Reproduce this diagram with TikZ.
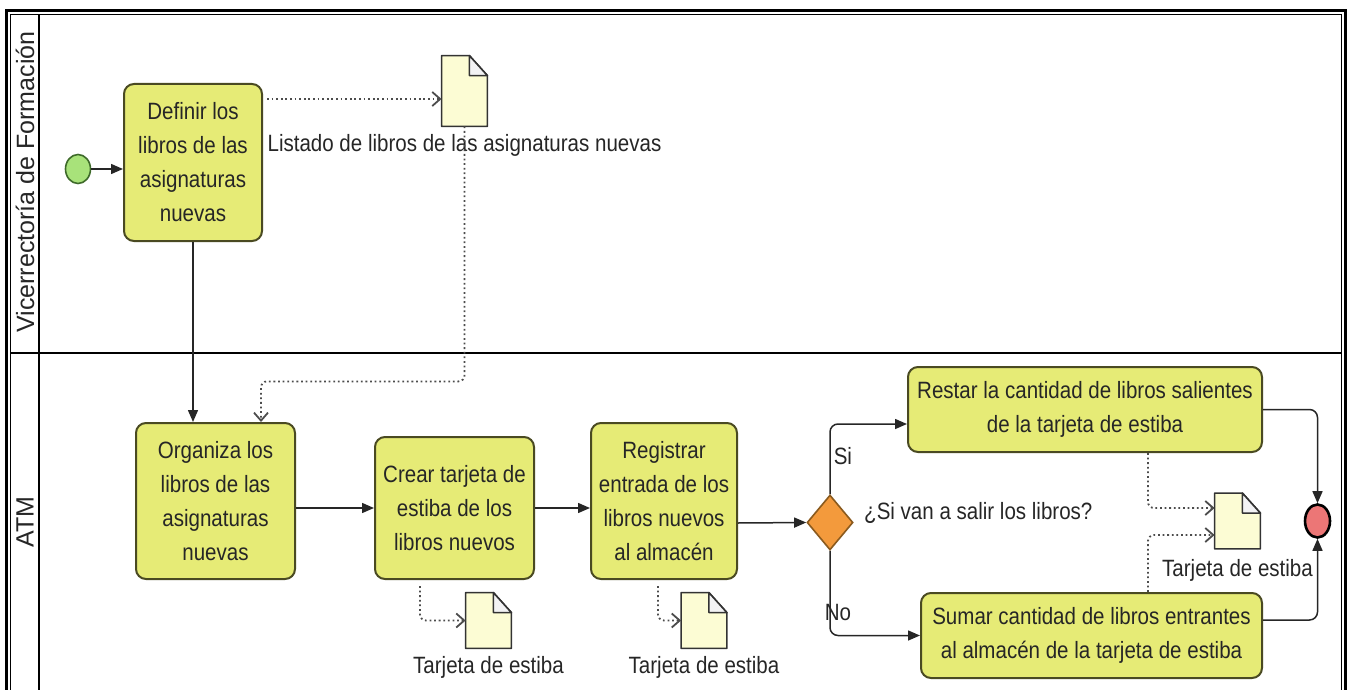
\documentclass[tikz,border=0pt]{standalone}
\usepackage{fontspec}
\setmainfont{Liberation Sans}[FakeStretch=0.87]
\newfontfamily\lanefont{Liberation Sans}
\usetikzlibrary{positioning,shapes.geometric,arrows.meta}
\definecolor{taskfill}{HTML}{E6EB76}
\definecolor{taskline}{HTML}{4A4A22}
\definecolor{docfill}{HTML}{FCFCD4}
\definecolor{foldfill}{HTML}{F2F2F4}
\definecolor{decfill}{HTML}{F39A3C}
\definecolor{decline}{HTML}{8A5A1E}
\definecolor{startfill}{HTML}{A8E27A}
\definecolor{startline}{HTML}{3E6A2A}
\definecolor{endfill}{HTML}{EC7676}
\definecolor{txt}{HTML}{262626}
\tikzset{>={Triangle[length=6pt,width=5pt]}}
\tikzset{
  task/.style={draw=taskline,fill=taskfill,line width=1pt,rounded corners=5pt,align=center,
    inner sep=0pt,font=\fontsize{11.8}{17}\selectfont,text=txt},
  doc/.style={inner sep=0pt,minimum width=22.5pt,minimum height=27.5pt},
  docline/.style={draw=black!80,fill=docfill,line width=0.8pt,line join=round},
  doclabel/.style={inner sep=0pt,font=\fontsize{11.8}{17}\selectfont,text=txt},
  flow/.style={->,draw=black!85,line width=0.75pt,rounded corners=4pt},
  assoc/.style={-{Straight Barb[length=4pt,width=7pt]},draw=black!70,line width=0.9pt,
    dash pattern=on 0.9pt off 1.4pt,rounded corners=3pt},
}

\begin{document}
\begin{tikzpicture}[x=0.5pt,y=-0.5pt]
\useasboundingbox (0,0) rectangle (1349,690);
\clip (0,0) rectangle (1349,690);
% pool and lanes
\draw[line width=1.5pt] (6.5,11) rectangle (1345.5,720);
\draw[line width=0.5pt] (10.5,14.5) rectangle (1341.5,720);
\draw[line width=0.6pt] (10.5,353) -- (1341.5,353);
\draw[line width=0.6pt] (39,14.5) -- (39,720);
\node[rotate=90,font={\lanefont\fontsize{12.5}{15}\selectfont},text=txt] (lane1) at (25,182) {Vicerrectoría de Formación};
\node[rotate=90,font={\lanefont\fontsize{12.5}{15}\selectfont},text=txt] (lane2) at (25,522) {ATM};

\begin{scope}[every node/.style={task}]
\node[minimum width=69pt,minimum height=78.5pt] (defin) at (193,162.5) {Definir los\\libros de las\\asignaturas\\nuevas};
\node[minimum width=79.5pt,minimum height=78pt] (organ) at (215.5,501) {Organiza los\\libros de las\\asignaturas\\nuevas};
\node[minimum width=79.5pt,minimum height=71pt] (crear) at (454.5,508) {Crear tarjeta de\\estiba de los\\libros nuevos};
\node[minimum width=73pt,minimum height=78pt] (regis) at (664,501) {Registrar\\entrada de los\\libros nuevos\\al almacén};
\node[minimum width=177pt,minimum height=42.5pt] (restar) at (1085,409.5) {Restar la cantidad de libros salientes\\de la tarjeta de estiba};
\node[minimum width=170.5pt,minimum height=42.5pt] (sumar) at (1091.5,635.5) {Sumar cantidad de libros entrantes\\al almacén de la tarjeta de estiba};
\end{scope}

% events and gateway
\node[ellipse,draw=startline,fill=startfill,line width=0.8pt,minimum width=12.5pt,minimum height=14.5pt,inner sep=0pt] (start) at (78,169) {};
\node[ellipse,draw=black,fill=endfill,line width=1.3pt,minimum width=12.5pt,minimum height=16.5pt,inner sep=0pt] (end) at (1317.5,521) {};
\node[diamond,draw=decline,fill=decfill,line width=0.8pt,minimum width=23pt,minimum height=27.5pt,inner sep=0pt] (dec) at (830,522.5) {};

% data objects
\begin{scope}[every node/.style={doc}]
\node[minimum height=35pt] (doc1) at (464.5,91) {};
\node (doc2) at (488.5,620.5) {};
\node (doc3) at (704,620.5) {};
\node (doc4) at (1237.5,521) {};
\end{scope}
\foreach \d in {doc1,doc2,doc3,doc4}{
  \draw[docline] (\d.north west) -- ([xshift=-9pt]\d.north east) -- ([yshift=-10pt]\d.north east) -- (\d.south east) -- (\d.south west) -- cycle;
  \draw[docline,fill=foldfill] ([xshift=-9pt]\d.north east) |- ([yshift=-10pt]\d.north east) -- cycle;
}

\begin{scope}[every node/.style={doclabel}]
\node[below=4pt of doc1] (lab1) {Listado de libros de las asignaturas nuevas};
\node[below=4pt of doc2] (lab2) {Tarjeta de estiba};
\node[below=4pt of doc3] (lab3) {Tarjeta de estiba};
\node[below=5pt of doc4] (lab4) {Tarjeta de estiba};
\node[right=5pt of dec,yshift=4.75pt] (question) {¿Si van a salir los libros?};
\end{scope}

% sequence flows
\draw[flow] (start.east) -- (start.east -| defin.west);
\draw[flow] (defin.south) -- (defin.south |- organ.north);
\draw[flow] (organ.east |- crear.west) -- (crear.west);
\draw[flow] (crear.east) -- (crear.east -| regis.west);
\draw[flow] ([yshift=-11pt]regis.east) -- (dec.west);
\draw[flow] (dec.north) |- node[doclabel,pos=0.27,right=1.5pt] (si) {Si} ([yshift=-7.25pt]restar.west);
\draw[flow] (dec.south) |- node[doclabel,pos=0.365,xshift=4pt] (no) {No} (sumar.west);
\draw[flow] (restar.east) -| (end.north);
\draw[flow] ([yshift=7.75pt]sumar.east) -| (end.south);

% associations
\coordinate (d1in) at ([yshift=-4pt]doc1.west);
\coordinate (o1in) at ([xshift=22.75pt]organ.north);
\draw[assoc,shorten <=2pt] (defin.east |- d1in) -- (d1in);
\draw[assoc] (doc1.south) -- ++(0,255) -| (o1in);
\draw[assoc,shorten <=3pt] ([xshift=-17.25pt]crear.south) |- (doc2.west);
\draw[assoc,shorten <=3pt] ([xshift=-3pt]regis.south) |- (doc3.west);
\draw[assoc] ([xshift=31.5pt]restar.south) |- ([yshift=6.5pt]doc4.west);
\draw[assoc] ([xshift=28.25pt]sumar.north) |- ([yshift=-7pt]doc4.west);
\end{tikzpicture}
\end{document}
